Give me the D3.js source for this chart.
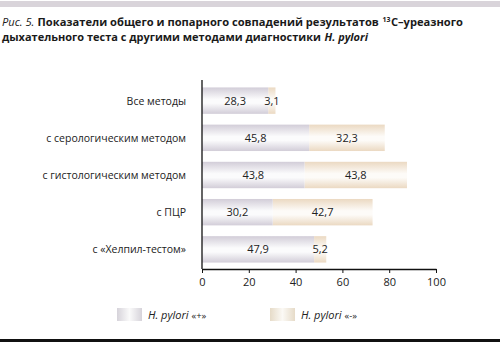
<!DOCTYPE html>
<html><head><meta charset="utf-8">
<script src="https://cdn.jsdelivr.net/npm/d3@7"></script>
<style>
body{margin:0;background:#fff;}
svg{display:block;font-family:"Open Sans","Noto Sans",sans-serif;}
</style></head>
<body>
<svg id="chart" width="500" height="344"></svg>
<script>
const categories = ["Все методы", "с серологическим методом", "с гистологическим методом", "с ПЦР", "с «Хелпил-тестом»"];
const positive = [28.3, 45.8, 43.8, 30.2, 47.9];
const negative = [3.1, 32.3, 43.8, 42.7, 5.2];
const xTicks = [0, 20, 40, 60, 80, 100];
const seriesNames = ["H. pylori «+»", "H. pylori «-»"];

const svg = d3.select("#chart");
const defs = svg.append("defs");

function vGrad(id, edge, mid) {
  const g = defs.append("linearGradient").attr("id", id).attr("x1", 0).attr("y1", 0).attr("x2", 0).attr("y2", 1);
  g.append("stop").attr("offset", "0%").attr("stop-color", edge);
  g.append("stop").attr("offset", "45%").attr("stop-color", mid);
  g.append("stop").attr("offset", "60%").attr("stop-color", mid);
  g.append("stop").attr("offset", "100%").attr("stop-color", edge);
}
function hGrad(id, edge, mid) {
  const g = defs.append("linearGradient").attr("id", id).attr("x1", 0).attr("y1", 0).attr("x2", 1).attr("y2", 0);
  g.append("stop").attr("offset", "0%").attr("stop-color", edge);
  g.append("stop").attr("offset", "50%").attr("stop-color", mid);
  g.append("stop").attr("offset", "100%").attr("stop-color", edge);
}
vGrad("gPos", "#d2cdd8", "#fbfbfc");
vGrad("gNeg", "#ebd9c2", "#fdfbf8");
hGrad("lPos", "#d6d3da", "#fafafa");
hGrad("lNeg", "#e6dbc8", "#fbf9f5");

// top band
svg.append("rect").attr("x", 0).attr("y", 1).attr("width", 500).attr("height", 6).attr("fill", "#d9d4da");

// title: each run is its own text, laid out left to right, then the line is squeezed to its width
function titleLine(parts, baseline, width) {
  const line = svg.append("g");
  let cx = 0;
  parts.forEach(p => {
    const t = line.append("text").attr("x", cx).attr("y", p.dy || 0)
      .attr("font-size", p.size || 10.5).attr("fill", "#1a1a1a")
      .attr("font-weight", p.bold ? "bold" : "normal")
      .attr("font-style", p.italic ? "italic" : "normal")
      .text(p.t);
    cx += t.node().getComputedTextLength() + (p.gap || 0);
  });
  line.attr("transform", `translate(2,${baseline}) scale(${width / cx},1)`);
}
titleLine([
  {t: "Рис. 5.", italic: true, gap: 3},
  {t: "Показатели общего и попарного совпадений результатов", bold: true, gap: 3},
  {t: "13", bold: true, size: 6.5, dy: -4, gap: 0.5},
  {t: "C–уреазного", bold: true}
], 26, 461);
titleLine([
  {t: "дыхательного теста с другими методами диагностики", bold: true, gap: 3},
  {t: "H. pylori", bold: true, italic: true}
], 40.5, 366);

const x = d3.scaleLinear().domain([0, 100]).range([202, 436]);
const y = d3.scaleBand().domain(categories).range([80, 270]).paddingInner(0.29).paddingOuter(0.2);

const rows = categories.map((c, i) => ({c, p: positive[i], n: negative[i]}));

const g = svg.append("g");
// negative segment first, positive segment from the axis
g.selectAll("rect.neg").data(rows).join("rect")
  .attr("x", d => x(d.p)).attr("y", d => y(d.c))
  .attr("width", d => x(d.p + d.n) - x(d.p)).attr("height", y.bandwidth())
  .attr("fill", "url(#gNeg)");
g.selectAll("rect.pos").data(rows).join("rect")
  .attr("x", x(0)).attr("y", d => y(d.c))
  .attr("width", d => x(d.p) - x(0)).attr("height", y.bandwidth())
  .attr("fill", "url(#gPos)");

const fmt = v => String(v).replace(".", ",");
g.selectAll("text.pv").data(rows).join("text")
  .attr("x", d => (x(0) + x(d.p)) / 2).attr("y", d => y(d.c) + y.bandwidth() / 2 + 4)
  .attr("text-anchor", "middle").attr("font-size", 11).attr("fill", "#222").text(d => fmt(d.p));
g.selectAll("text.nv").data(rows).join("text")
  .attr("x", d => (x(d.p) + x(d.p + d.n)) / 2).attr("y", d => y(d.c) + y.bandwidth() / 2 + 4)
  .attr("text-anchor", "middle").attr("font-size", 11).attr("fill", "#222").text(d => fmt(d.n));

// category labels
g.selectAll("text.cat").data(categories).join("text")
  .attr("x", 186).attr("y", d => y(d) + y.bandwidth() / 2 + 4)
  .attr("text-anchor", "end").attr("font-size", 10.5).attr("fill", "#222").text(d => d);

// axes
const xAxis = d3.axisBottom(x).tickValues(xTicks).tickSize(4).tickSizeOuter(0);
const ax = svg.append("g").attr("transform", "translate(0,269)").call(xAxis);
ax.select(".domain").attr("stroke", "#111").attr("stroke-width", 1.3);
ax.selectAll(".tick line").attr("stroke", "#111");
ax.selectAll(".tick text").attr("font-size", 11).attr("fill", "#222").attr("dy", "0.9em").attr("font-family", "'Open Sans','Noto Sans',sans-serif");
svg.append("line").attr("x1", x(0)).attr("x2", x(0)).attr("y1", 80).attr("y2", 269).attr("stroke", "#111").attr("stroke-width", 1.3);

// legend
const leg = svg.append("g");
const legX = [117, 270];
seriesNames.forEach((name, i) => {
  leg.append("rect").attr("x", legX[i]).attr("y", 308).attr("width", 25).attr("height", 13).attr("fill", i ? "url(#lNeg)" : "url(#lPos)");
  const t = leg.append("text").attr("x", legX[i] + 31).attr("y", 318.5).attr("font-size", 11).attr("fill", "#222");
  t.append("tspan").attr("font-style", "italic").text(name.split("«")[0]);
  t.append("tspan").attr("font-size", 9.5).text("«" + name.split("«")[1]);
});

// bottom rule
svg.append("rect").attr("x", 0).attr("y", 339).attr("width", 500).attr("height", 3).attr("fill", "#111");
</script>
</body></html>
